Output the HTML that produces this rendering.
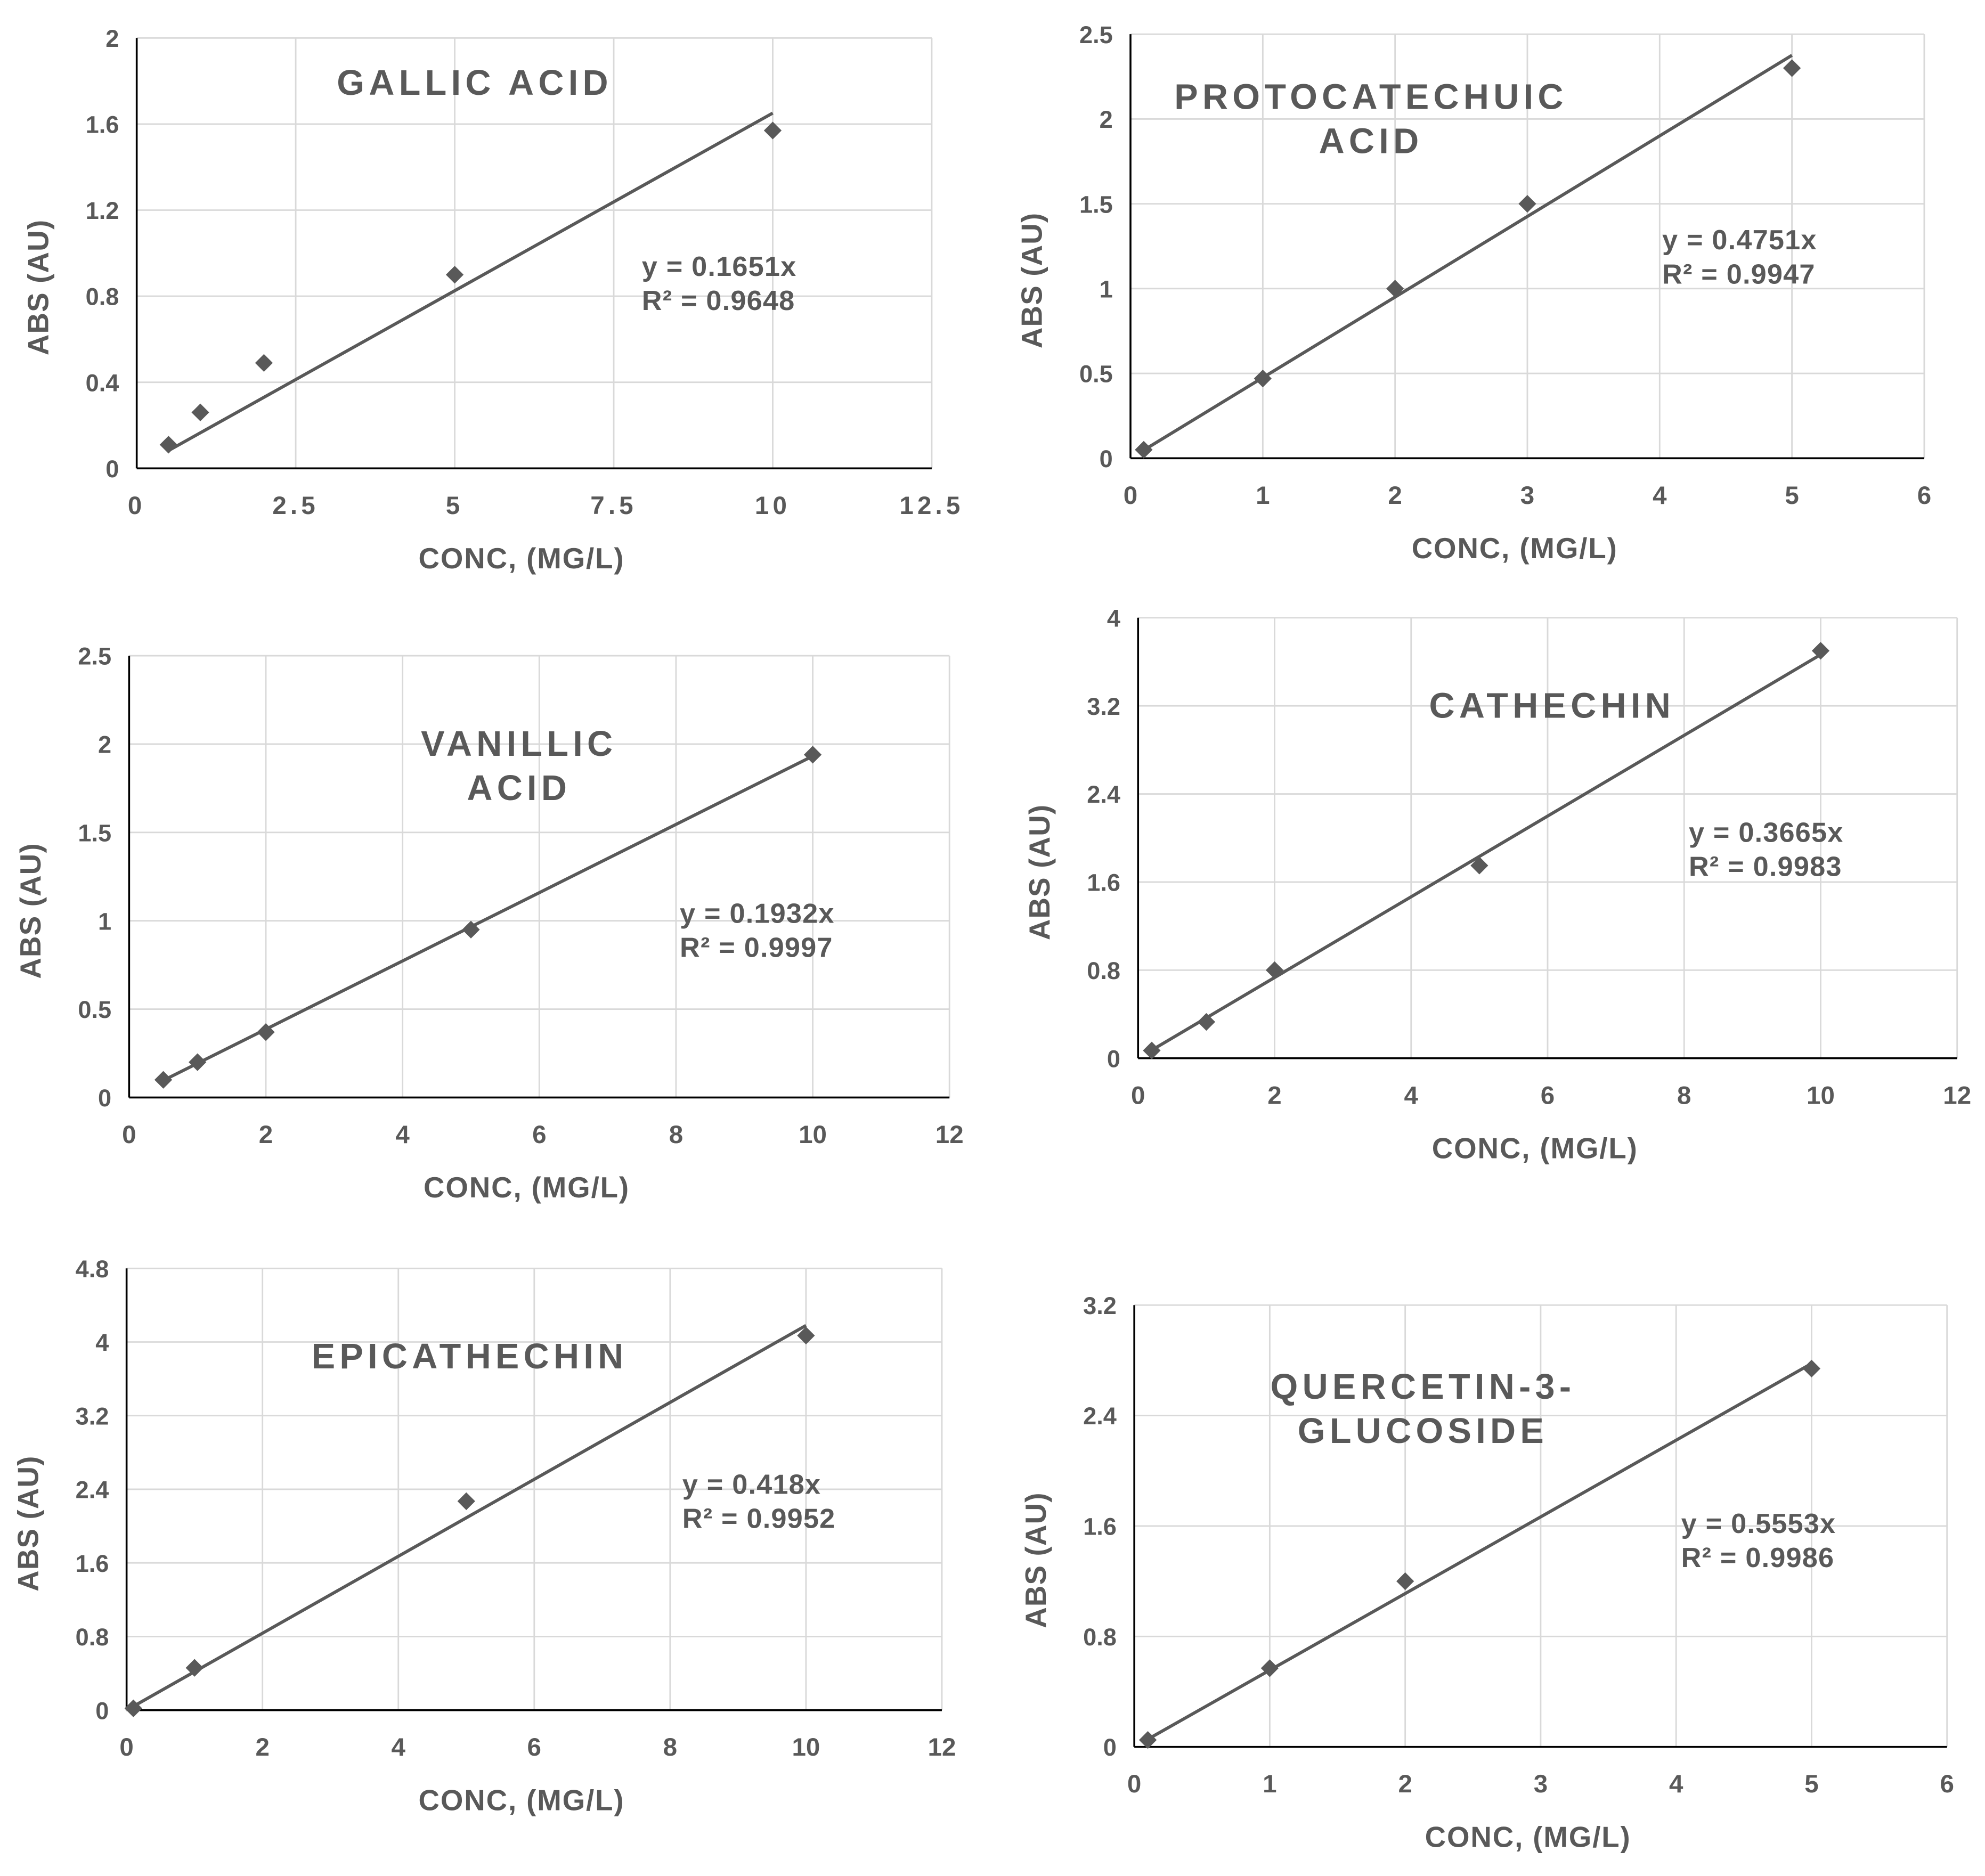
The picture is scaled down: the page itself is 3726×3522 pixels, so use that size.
<!DOCTYPE html>
<html><head><meta charset="utf-8"><style>
html,body{margin:0;padding:0;background:#fff;}
svg{display:block;font-family:"Liberation Sans",Arial,sans-serif;}
</style></head><body>
<svg id="fig" width="3726" height="3522" viewBox="0 0 1568 1482" preserveAspectRatio="none" xmlns="http://www.w3.org/2000/svg"></svg>
<script>
// Data arrays (top level)
const gallicX = [0.5, 1, 2, 5, 10];
const gallicY = [0.11, 0.26, 0.49, 0.9, 1.57];
const gallicSlope = 0.1651;
const gallicXTicks = ["0","2.5","5","7.5","10","12.5"];
const gallicYTicks = ["0","0.4","0.8","1.2","1.6","2"];

const protoX = [0.1, 1, 2, 3, 5];
const protoY = [0.05, 0.47, 1.0, 1.5, 2.3];
const protoSlope = 0.4751;
const protoXTicks = ["0","1","2","3","4","5","6"];
const protoYTicks = ["0","0.5","1","1.5","2","2.5"];

const vanX = [0.5, 1, 2, 5, 10];
const vanY = [0.1, 0.2, 0.37, 0.95, 1.94];
const vanSlope = 0.1932;
const vanXTicks = ["0","2","4","6","8","10","12"];
const vanYTicks = ["0","0.5","1","1.5","2","2.5"];

const catX = [0.2, 1, 2, 5, 10];
const catY = [0.07, 0.33, 0.8, 1.75, 3.7];
const catSlope = 0.3665;
const catXTicks = ["0","2","4","6","8","10","12"];
const catYTicks = ["0","0.8","1.6","2.4","3.2","4"];

const epiX = [0.1, 1, 5, 10];
const epiY = [0.02, 0.46, 2.27, 4.07];
const epiSlope = 0.418;
const epiXTicks = ["0","2","4","6","8","10","12"];
const epiYTicks = ["0","0.8","1.6","2.4","3.2","4","4.8"];

const querX = [0.1, 1, 2, 5];
const querY = [0.05, 0.57, 1.2, 2.74];
const querSlope = 0.5553;
const querXTicks = ["0","1","2","3","4","5","6"];
const querYTicks = ["0","0.8","1.6","2.4","3.2"];

const NS = "http://www.w3.org/2000/svg";
const svg = document.getElementById("fig");
function mk(tag, attrs, parent, text){
  const e = document.createElementNS(NS, tag);
  for (const k in attrs) e.setAttribute(k, attrs[k]);
  if (text !== undefined) e.textContent = text;
  parent.appendChild(e);
  return e;
}

function chart(o){
  const g = mk("g", {}, svg);
  
  
  const xmax = parseFloat(o.xt[o.xt.length-1]), ymax = parseFloat(o.yt[o.yt.length-1]);
  const sx = v => o.L + (v/xmax)*(o.R-o.L);
  const sy = v => o.B - (v/ymax)*(o.B-o.T);
  o.xt.forEach((t,i)=>{
    const x = sx(parseFloat(t));
    if (i>0){ const l = mk("line",{x1:x,x2:x,y1:o.T,y2:o.B,stroke:"#d9d9d9","stroke-width":1.2},g);
        }
    const tx = mk("text",{x:x,y:o.B+36,"text-anchor":"middle","font-size":20,"font-weight":"bold",fill:"#595959","letter-spacing":o.xls||0},g,t);
     
  });
  o.yt.forEach((t,i)=>{
    const y = sy(parseFloat(t));
    if (i>0){ const l = mk("line",{x1:o.L,x2:o.R,y1:y,y2:y,stroke:"#d9d9d9","stroke-width":1.2},g);
        }
    const ty = mk("text",{x:o.L-14,y:y+7,"text-anchor":"end","font-size":19,"font-weight":"bold",fill:"#595959"},g,t);
     
  });
  const ax = mk("line",{x1:o.L,x2:o.L,y1:o.T,y2:o.B,stroke:"#000","stroke-width":1.5},g);
   
  const bx = mk("line",{x1:o.L,x2:o.R,y1:o.B,y2:o.B,stroke:"#000","stroke-width":1.5},g);
   
  const x0 = o.x[0], x1 = o.x[o.x.length-1];
  const tl = mk("line",{x1:sx(x0),y1:sy(o.slope*x0),x2:sx(x1),y2:sy(o.slope*x1),stroke:"#595959","stroke-width":2.5},g);
   
  o.x.forEach((v,i)=>{
    const cx = sx(v), cy = sy(o.y[i]), r=7;
    const p = mk("polygon",{points:`${cx},${cy-r} ${cx+r},${cy} ${cx},${cy+r} ${cx-r},${cy}`,fill:"#595959"},g);
     
  });
  o.title.forEach((t,i)=>{
    const tt = mk("text",{x:o.tx,y:o.ty+i*35,"text-anchor":"middle","font-size":28,"font-weight":"bold",fill:"#595959","letter-spacing":3.5},g,t);
     
  });
  const e1 = mk("text",{x:o.ex,y:o.ey,"font-size":22,"font-weight":"bold",fill:"#595959","letter-spacing":0.5},g,"y = "+o.slope+"x");
   
  const e2 = mk("text",{x:o.ex,y:o.ey+27,"font-size":22,"font-weight":"bold",fill:"#595959","letter-spacing":0.5},g,"R² = "+o.r2);
   
  const xt = mk("text",{x:(o.L+o.R)/2-10,y:o.B+79,"text-anchor":"middle","font-size":23,"font-weight":"bold",fill:"#595959","letter-spacing":0.8},g,"CONC, (MG/L)");
   
  const yc = (o.T+o.B)/2+27, yx = o.L-70;
  const yt = mk("text",{x:yx,y:yc,"text-anchor":"middle","font-size":23,"font-weight":"bold",fill:"#595959","letter-spacing":0.5,transform:`rotate(-90 ${yx} ${yc})`},g,"ABS (AU)");
   
}

chart({name:"gallic-acid-chart",L:108,R:736,T:30,B:370,x:gallicX,y:gallicY,slope:gallicSlope,r2:"0.9648",xt:gallicXTicks,yt:gallicYTicks,xls:3,title:["GALLIC ACID"],tx:375,ty:75,ex:507,ey:218});
chart({name:"protocatechuic-acid-chart",L:893,R:1520,T:27,B:362,x:protoX,y:protoY,slope:protoSlope,r2:"0.9947",xt:protoXTicks,yt:protoYTicks,title:["PROTOCATECHUIC","ACID"],tx:1083,ty:86,ex:1313,ey:197});
chart({name:"vanillic-acid-chart",L:102,R:750,T:518,B:867,x:vanX,y:vanY,slope:vanSlope,r2:"0.9997",xt:vanXTicks,yt:vanYTicks,title:["VANILLIC","ACID"],tx:410,ty:597,ex:537,ey:729});
chart({name:"cathechin-chart",L:899,R:1546,T:488,B:836,x:catX,y:catY,slope:catSlope,r2:"0.9983",xt:catXTicks,yt:catYTicks,title:["CATHECHIN"],tx:1226,ty:567,ex:1334,ey:665});
chart({name:"epicathechin-chart",L:100,R:744,T:1002,B:1351,x:epiX,y:epiY,slope:epiSlope,r2:"0.9952",xt:epiXTicks,yt:epiYTicks,title:["EPICATHECHIN"],tx:371,ty:1081,ex:539,ey:1180});
chart({name:"quercetin-3-glucoside-chart",L:896,R:1538,T:1031,B:1380,x:querX,y:querY,slope:querSlope,r2:"0.9986",xt:querXTicks,yt:querYTicks,title:["QUERCETIN-3-","GLUCOSIDE"],tx:1124,ty:1105,ex:1328,ey:1211});
</script>
</body></html>
